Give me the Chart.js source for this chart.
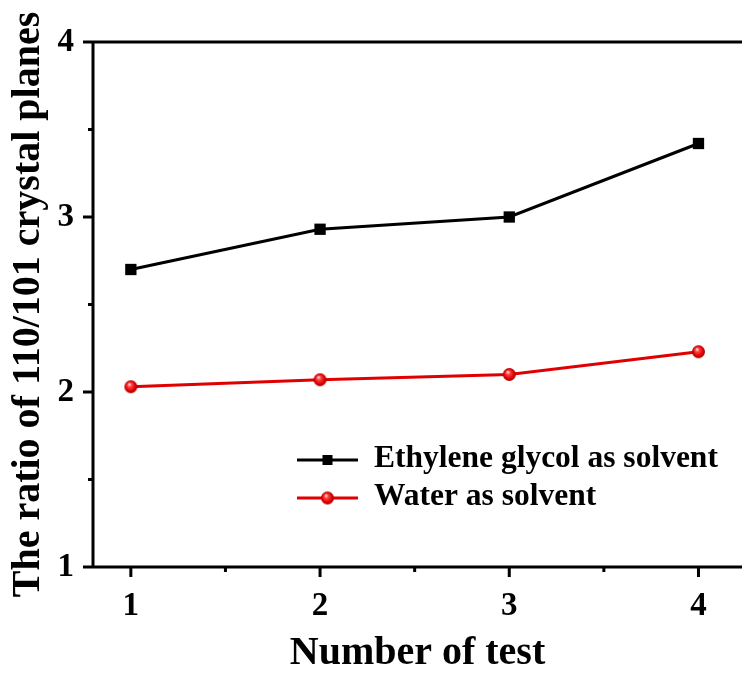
<!DOCTYPE html>
<html>
<head>
<meta charset="utf-8">
<script src="https://cdn.jsdelivr.net/npm/chart.js@4.4.1/dist/chart.umd.min.js"></script>
<style>
  html, body { margin: 0; padding: 0; background: #fff; overflow: hidden; }
  #wrap { width: 742px; height: 677px; position: relative; }
</style>
</head>
<body>
<div id="wrap"><canvas id="chart"></canvas></div>
<script>
// Ratio of the (110) to (101) peak intensities for each test run
const testNumbers = [1, 2, 3, 4];
const ethyleneGlycolRatio = [2.70, 2.93, 3.00, 3.42];
const waterRatio = [2.03, 2.07, 2.10, 2.23];

const xTickValues = [1, 2, 3, 4];
const yTickValues = [1, 2, 3, 4];
const seriesNames = ['Ethylene glycol as solvent', 'Water as solvent'];
const xAxisTitle = 'Number of test';
const yAxisTitle = 'The ratio of 110/101 crystal planes';

const SERIF = "'Liberation Serif', 'Times New Roman', Times, serif";
const RED = '#e00000';

// Glossy red ball used as the water-series marker
function sphereMarker(r) {
  const s = Math.ceil(r * 2) + 2;
  const cv = document.createElement('canvas');
  cv.width = s; cv.height = s;
  const g = cv.getContext('2d');
  const c = s / 2;
  const grad = g.createRadialGradient(c - r * 0.25, c - r * 0.4, r * 0.05, c, c, r);
  grad.addColorStop(0, '#ffe0e0');
  grad.addColorStop(0.3, '#ff4040');
  grad.addColorStop(0.75, '#dc0000');
  grad.addColorStop(1, '#a80000');
  g.fillStyle = grad;
  g.beginPath();
  g.arc(c, c, r, 0, Math.PI * 2);
  g.fill();
  return cv;
}
const redBall = sphereMarker(6.5);

// Axis frame with outward major and minor tick marks
const frameAxes = {
  id: 'frameAxes',
  beforeDatasetsDraw(chart) {
    const { ctx, chartArea: a, scales: { x, y } } = chart;
    const major = 10, minor = 5;
    ctx.save();
    ctx.strokeStyle = '#000';
    ctx.lineWidth = 3;
    ctx.lineCap = 'butt';
    ctx.beginPath();
    ctx.moveTo(a.left, a.top - 1.5); ctx.lineTo(a.left, a.bottom + 1.5);
    ctx.moveTo(a.left - major, a.bottom); ctx.lineTo(a.right, a.bottom);
    ctx.moveTo(a.left - major, a.top); ctx.lineTo(a.right, a.top);
    yTickValues.forEach(v => {
      const py = y.getPixelForValue(v);
      ctx.moveTo(a.left - major, py); ctx.lineTo(a.left, py);
    });
    for (let i = 0; i < yTickValues.length - 1; i++) {
      const py = y.getPixelForValue((yTickValues[i] + yTickValues[i + 1]) / 2);
      ctx.moveTo(a.left - minor, py); ctx.lineTo(a.left, py);
    }
    xTickValues.forEach(v => {
      const px = x.getPixelForValue(v);
      ctx.moveTo(px, a.bottom); ctx.lineTo(px, a.bottom + major);
    });
    for (let i = 0; i < xTickValues.length - 1; i++) {
      const px = x.getPixelForValue((xTickValues[i] + xTickValues[i + 1]) / 2);
      ctx.moveTo(px, a.bottom); ctx.lineTo(px, a.bottom + minor);
    }
    ctx.stroke();
    ctx.restore();
  }
};

// Legend: line sample with its marker, then the series name
const lineLegend = {
  id: 'lineLegend',
  afterDraw(chart) {
    const { ctx } = chart;
    const x0 = 297, x1 = 358, textX = 374;
    const rows = [460, 498];
    ctx.save();
    chart.data.datasets.forEach((ds, i) => {
      const yy = rows[i];
      ctx.strokeStyle = ds.borderColor;
      ctx.lineWidth = 3;
      ctx.beginPath();
      ctx.moveTo(x0, yy); ctx.lineTo(x1, yy);
      ctx.stroke();
      const cx = (x0 + x1) / 2;
      if (ds.pointStyle === 'rect') {
        ctx.fillStyle = ds.pointBackgroundColor;
        ctx.fillRect(cx - 5, yy - 5, 10, 10);
      } else {
        ctx.drawImage(redBall, cx - redBall.width / 2, yy - redBall.height / 2);
      }
      ctx.fillStyle = '#000';
      ctx.font = `bold 31.5px ${SERIF}`;
      ctx.textBaseline = 'middle';
      ctx.textAlign = 'left';
      ctx.fillText(ds.label, textX, yy - 1);
    });
    ctx.restore();
  }
};

const toPoints = (xs, ys) => xs.map((t, i) => ({ x: t, y: ys[i] }));

new Chart(document.getElementById('chart'), {
  type: 'line',
  data: {
    datasets: [
      {
        label: seriesNames[0],
        data: toPoints(testNumbers, ethyleneGlycolRatio),
        borderColor: '#000',
        backgroundColor: '#000',
        borderWidth: 3,
        pointStyle: 'rect',
        pointRadius: 8,
        pointBackgroundColor: '#000',
        pointBorderWidth: 0,
        tension: 0,
        clip: false
      },
      {
        label: seriesNames[1],
        data: toPoints(testNumbers, waterRatio),
        borderColor: RED,
        backgroundColor: RED,
        borderWidth: 3,
        pointStyle: redBall,
        pointRadius: 7,
        pointBorderWidth: 0,
        tension: 0,
        clip: false
      }
    ]
  },
  options: {
    responsive: true,
    maintainAspectRatio: false,
    animation: false,
    layout: { autoPadding: false, padding: { top: 42, right: 0, left: 0, bottom: 0 } },
    plugins: { legend: { display: false }, tooltip: { enabled: false } },
    scales: {
      x: {
        type: 'linear',
        min: 0.8,
        max: 4.23,
        afterBuildTicks: s => { s.ticks = xTickValues.map(v => ({ value: v })); },
        afterFit: s => { s.height = 110; s.paddingLeft = 0; s.paddingRight = 0; },
        grid: { display: false, drawTicks: false },
        border: { display: false },
        ticks: {
          color: '#000',
          padding: 20,
          font: { family: SERIF, size: 33, weight: 'bold' }
        },
        title: {
          display: true,
          text: xAxisTitle,
          color: '#000',
          font: { family: SERIF, size: 40, weight: 'bold', lineHeight: 1 },
          padding: { top: 0, bottom: 3 }
        }
      },
      y: {
        type: 'linear',
        min: 1,
        max: 4,
        afterBuildTicks: s => { s.ticks = yTickValues.map(v => ({ value: v })); },
        afterFit: s => { s.width = 93; s.paddingTop = 0; s.paddingBottom = 0; },
        grid: { display: false, drawTicks: false },
        border: { display: false },
        ticks: {
          color: '#000',
          padding: 19,
          font: { family: SERIF, size: 33, weight: 'bold' }
        },
        title: {
          display: true,
          text: yAxisTitle,
          color: '#000',
          font: { family: SERIF, size: 40, weight: 'bold', lineHeight: 1 },
          padding: { top: 9, bottom: 0 }
        }
      }
    }
  },
  plugins: [frameAxes, lineLegend]
});
</script>
</body>
</html>
